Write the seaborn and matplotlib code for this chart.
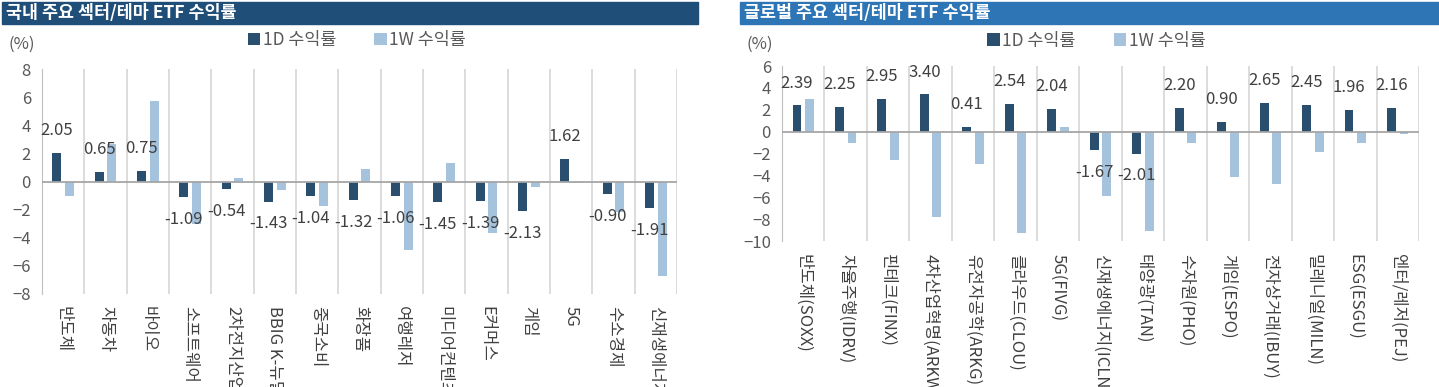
import numpy as np
import pandas as pd
import seaborn as sns
from matplotlib import pyplot as plt
from matplotlib.patches import Rectangle

kr_sectors = ["반도체", "자동차", "바이오", "소프트웨어", "2차전지산업", "BBIG K-뉴딜", "중국소비",
              "화장품", "여행레저", "미디어컨텐츠", "E커머스", "게임", "5G", "수소경제", "신재생에너지"]
kr_1d = [2.05, 0.65, 0.75, -1.09, -0.54, -1.43, -1.04, -1.32, -1.06, -1.45, -1.39, -2.13, 1.62, -0.90, -1.91]
kr_1w = [-1.02, 2.64, 5.74, -3.0, 0.26, -0.57, -1.71, 0.90, -4.9, 1.33, -3.69, -0.40, -0.14, -2.17, -6.71]

gl_sectors = ["반도체(SOXX)", "자율주행(IDRV)", "핀테크(FINX)", "4차산업혁명(ARKW)", "유전자공학(ARKG)",
              "클라우드(CLOU)", "5G(FIVG)", "신재생에너지(ICLN)", "태양광(TAN)", "수자원(PHO)",
              "게임(ESPO)", "전자상거래(IBUY)", "밀레니얼(MILN)", "ESG(ESGU)", "엔터/레저(PEJ)"]
gl_1d = [2.39, 2.25, 2.95, 3.40, 0.41, 2.54, 2.04, -1.67, -2.01, 2.20, 0.90, 2.65, 2.45, 1.96, 2.16]
gl_1w = [2.96, -1.04, -2.62, -7.8, -2.96, -9.27, 0.46, -5.91, -9.12, -1.04, -4.15, -4.82, -1.89, -1.07, -0.18]

series = ["1D 수익률", "1W 수익률"]
palette = {"1D 수익률": "#1f4e79", "1W 수익률": "#9dc3e6"}

sns.set_style("white")
plt.rcParams['font.family'] = ['Noto Sans CJK KR', 'DejaVu Sans']

W, H = 1439, 387
fig = plt.figure(figsize=(W / 100, H / 100), dpi=100)


def draw_panel(rect, sectors, d1, w1, ylim, yticks, title, title_box, title_color, pct_x, legend_x, legend_y, label_pad):
    ax = fig.add_axes(rect)
    df = pd.DataFrame({
        "sector": sectors * 2,
        "series": [series[0]] * len(sectors) + [series[1]] * len(sectors),
        "value": list(d1) + list(w1),
    })
    sns.barplot(data=df, x="sector", y="value", hue="series", hue_order=series, order=sectors,
                palette=palette, width=0.59, gap=0.29, linewidth=0, ax=ax)

    ax.set_xlim(-0.5, len(sectors) - 0.5)
    ax.set_ylim(*ylim)
    ax.set_yticks(yticks)
    ax.set_xlabel("")
    ax.set_ylabel("")
    ax.set_xticks(np.arange(-0.5, len(sectors), 1), minor=True)
    ax.grid(which="minor", axis="x", color="#d9d9d9", lw=1.3)
    ax.grid(which="major", visible=False)
    ax.tick_params(axis="x", which="both", length=0, pad=label_pad, labelsize=12, labelcolor="#404040")
    ax.tick_params(axis="y", direction="in", length=4, color="#bfbfbf", labelsize=12, labelcolor="#595959", pad=8)
    for lab in ax.get_xticklabels():
        lab.set_rotation(-90)
        lab.set_va("top")
        lab.set_ha("center")
    for s in ["top", "right", "bottom"]:
        ax.spines[s].set_visible(False)
    ax.spines["left"].set_color("#bfbfbf")
    ax.axhline(0, color="#a6a6a6", lw=1.3, zorder=3)

    ax.bar_label(ax.containers[0], labels=[f"{v:.2f}" for v in d1], padding=10,
                 fontsize=12, color="#404040")

    sns.move_legend(ax, loc="center left", bbox_to_anchor=(legend_x, legend_y), ncol=2, frameon=False,
                    title=None, fontsize=12.5, handlelength=0.7, handleheight=0.7, handletextpad=0.15,
                    columnspacing=2.2, labelcolor="#595959")

    x0, x1 = title_box
    fig.patches.append(Rectangle((x0 / W, 1 - 24 / H), (x1 - x0) / W, 22 / H,
                                 transform=fig.transFigure, color=title_color, zorder=0))
    fig.text((x0 + 4) / W, 1 - 13 / H, title, color="white", fontsize=12.5, fontweight="bold", va="center")
    fig.text(pct_x / W, 1 - 44 / H, "(%)", color="#595959", fontsize=12, va="center")
    return ax


draw_panel([42 / W, (H - 294) / H, 635 / W, 225 / H], kr_sectors, kr_1d, kr_1w,
           (-8, 8), np.arange(-8, 9, 2), "국내 주요 섹터/테마 ETF 수익률", (2, 698), "#1f4e79",
           8, 0.30, 1.13, 9)
draw_panel([782 / W, (H - 241) / H, 637 / W, 175 / H], gl_sectors, gl_1d, gl_1w,
           (-10, 6), np.arange(-10, 7, 2), "글로벌 주요 섹터/테마 ETF 수익률", (740, 1439), "#2e75b6",
           747, 0.298, 1.145, 9)

fig.savefig("out.png", dpi=100)
